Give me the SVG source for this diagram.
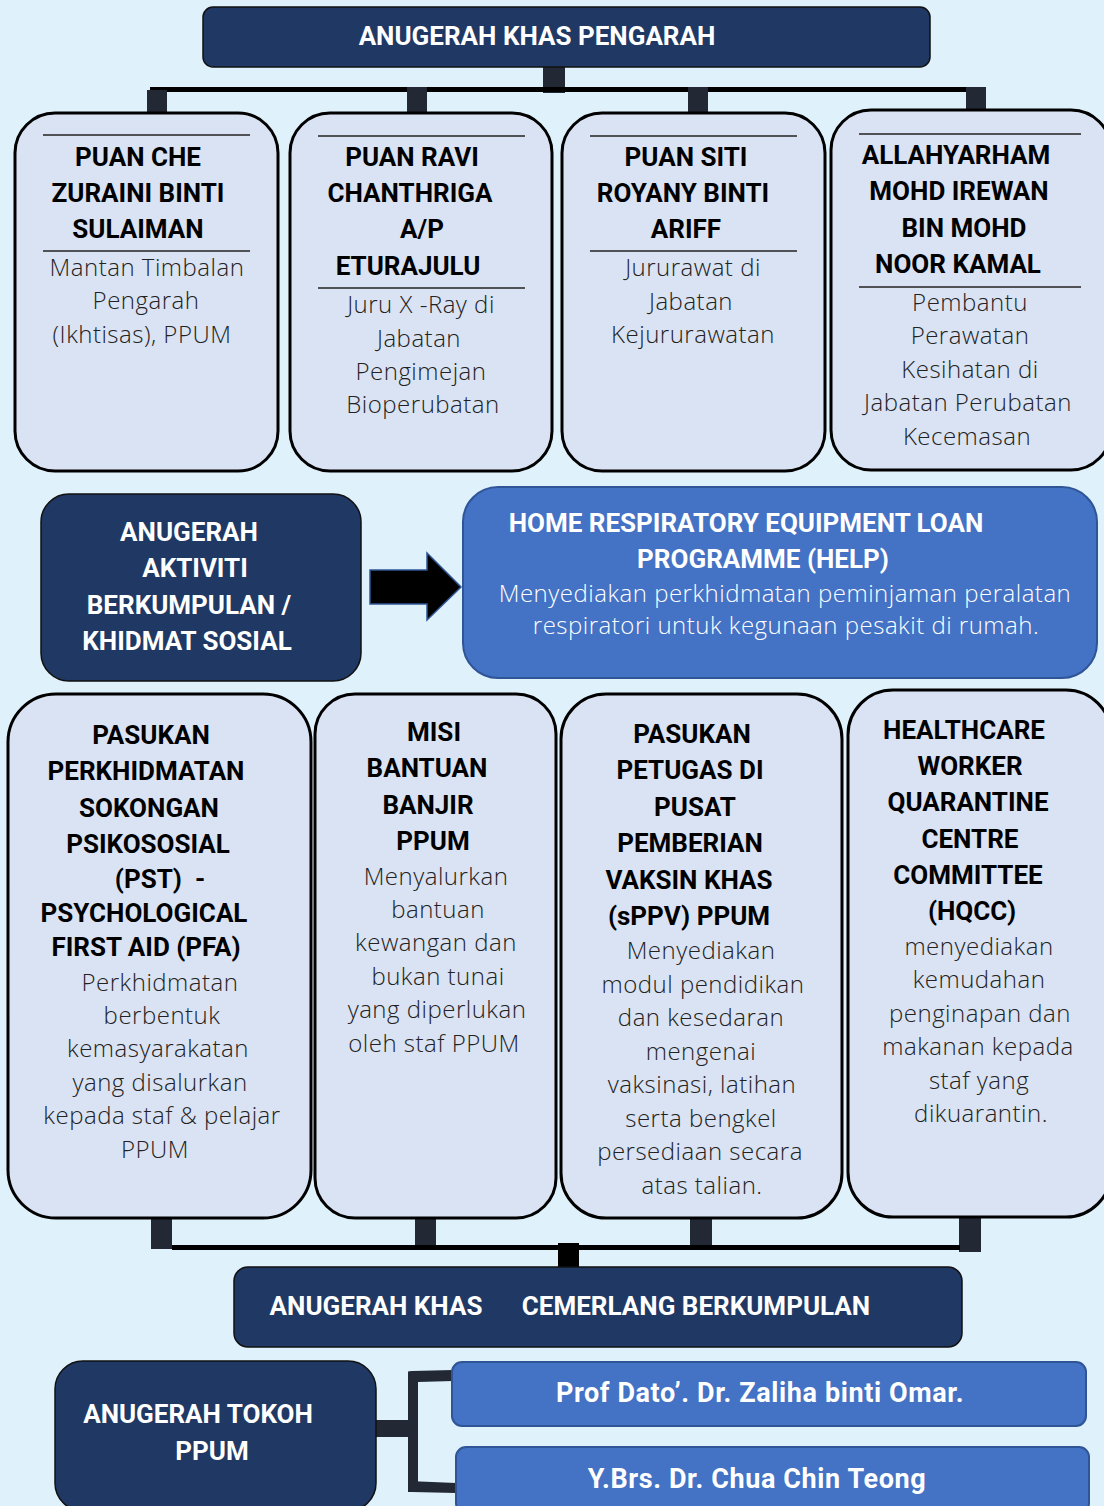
<svg xmlns="http://www.w3.org/2000/svg" width="1104" height="1506" viewBox="0 0 1104 1506">
<style>
.card{fill:#dae3f3;stroke:#000;stroke-width:3}
.navy{fill:#203864;stroke:#111;stroke-width:1.5}
.blue{fill:#4472c4;stroke:#2f5597;stroke-width:2}
.stub{fill:#222834}
.bar{fill:#000}
.rule{stroke:#222;stroke-width:1.5}
text{text-anchor:middle}
.t{font-family:Roboto,"Liberation Sans",sans-serif;font-weight:700;font-size:26px;fill:#000}
.w{font-family:Roboto,"Liberation Sans",sans-serif;font-weight:700;font-size:26px;fill:#fff}
.nm{font-size:27px;letter-spacing:0.6px}
.b{font-family:"Open Sans","Noto Sans",sans-serif;font-weight:300;font-size:24px;letter-spacing:0.5px;fill:#222}
.wb{font-family:"Open Sans","Noto Sans",sans-serif;font-weight:300;font-size:24px;letter-spacing:0.5px;fill:#fff}
</style>
<rect width="1104" height="1506" fill="#dff1fb"/>

<g id="connectors">
  <rect class="stub" x="543" y="58" width="22" height="35"/>
  <rect class="bar" x="150" y="87" width="822" height="5"/>
  <rect class="stub" x="147" y="90" width="20" height="25"/>
  <rect class="stub" x="407" y="87" width="20" height="26"/>
  <rect class="stub" x="688" y="87" width="20" height="26"/>
  <rect class="stub" x="966" y="87" width="20" height="24"/>
  <path d="M370,570 H427 V553 L461,587 L427,620 V604 H370 Z" fill="#000" stroke="#2f5597" stroke-width="1.5"/>
  <rect class="stub" x="151" y="1214" width="21" height="35"/>
  <rect class="stub" x="415" y="1214" width="21" height="35"/>
  <rect class="stub" x="690" y="1215" width="22" height="35"/>
  <rect class="stub" x="959" y="1216" width="22" height="36"/>
  <rect class="bar" x="172" y="1245" width="788" height="5"/>
  <rect class="bar" x="558" y="1243" width="21" height="25"/>
  <rect class="stub" x="376" y="1420" width="40" height="17"/>
  <rect class="stub" x="408" y="1372" width="10" height="120"/>
  <path class="stub" d="M408,1372 Q408,1371 412,1371 L453,1370 L453,1381 L418,1382 Z"/>
  <path class="stub" d="M408,1481 L456,1483 L456,1493 L412,1492 Q408,1492 408,1488 Z"/>
</g>

<g id="n-top">
  <rect class="navy" x="203" y="7" width="727" height="60" rx="10"/>
  <text class="w" x="537" y="45">ANUGERAH KHAS PENGARAH</text>
</g>

<g id="n-che">
  <rect class="card" x="15" y="113" width="263" height="358" rx="40"/>
  <line class="rule" x1="43" y1="135" x2="250" y2="135"/>
  <line class="rule" x1="43" y1="251" x2="250" y2="251"/>
  <text class="t" x="138" y="166">PUAN CHE</text>
  <text class="t" x="138" y="202">ZURAINI BINTI</text>
  <text class="t" x="138" y="238">SULAIMAN</text>
  <text class="b" x="147" y="276">Mantan Timbalan</text>
  <text class="b" x="146" y="309">Pengarah</text>
  <text class="b" x="142" y="343">(Ikhtisas), PPUM</text>
</g>

<g id="n-ravi">
  <rect class="card" x="290" y="113" width="262" height="358" rx="40"/>
  <line class="rule" x1="318" y1="136" x2="525" y2="136"/>
  <line class="rule" x1="318" y1="288" x2="525" y2="288"/>
  <text class="t" x="412" y="166">PUAN RAVI</text>
  <text class="t" x="410" y="202">CHANTHRIGA</text>
  <text class="t" x="422" y="238">A/P</text>
  <text class="t" x="408" y="275">ETURAJULU</text>
  <text class="b" x="421" y="313">Juru X -Ray di</text>
  <text class="b" x="419" y="347">Jabatan</text>
  <text class="b" x="421" y="380">Pengimejan</text>
  <text class="b" x="423" y="413">Bioperubatan</text>
</g>

<g id="n-siti">
  <rect class="card" x="562" y="113" width="263" height="358" rx="40"/>
  <line class="rule" x1="590" y1="136" x2="797" y2="136"/>
  <line class="rule" x1="590" y1="251" x2="797" y2="251"/>
  <text class="t" x="686" y="166">PUAN SITI</text>
  <text class="t" x="683" y="202">ROYANY BINTI</text>
  <text class="t" x="686" y="238">ARIFF</text>
  <text class="b" x="693" y="276">Jururawat di</text>
  <text class="b" x="691" y="310">Jabatan</text>
  <text class="b" x="693" y="343">Kejururawatan</text>
</g>

<g id="n-irewan">
  <rect class="card" x="831" y="110" width="280" height="360" rx="40"/>
  <line class="rule" x1="859" y1="134" x2="1081" y2="134"/>
  <line class="rule" x1="859" y1="287" x2="1081" y2="287"/>
  <text class="t" x="956" y="164">ALLAHYARHAM</text>
  <text class="t" x="959" y="200">MOHD IREWAN</text>
  <text class="t" x="964" y="237">BIN MOHD</text>
  <text class="t" x="958" y="273">NOOR KAMAL</text>
  <text class="b" x="970" y="311">Pembantu</text>
  <text class="b" x="970" y="344">Perawatan</text>
  <text class="b" x="970" y="378">Kesihatan di</text>
  <text class="b" x="968" y="411">Jabatan Perubatan</text>
  <text class="b" x="967" y="445">Kecemasan</text>
</g>

<g id="n-aktiviti">
  <rect class="navy" x="41" y="494" width="320" height="187" rx="28"/>
  <text class="w" x="189" y="541">ANUGERAH</text>
  <text class="w" x="195" y="577">AKTIVITI</text>
  <text class="w" x="189" y="614">BERKUMPULAN /</text>
  <text class="w" x="187" y="650">KHIDMAT SOSIAL</text>
</g>

<g id="n-help">
  <rect class="blue" x="463" y="487" width="634" height="191" rx="35"/>
  <text class="w" x="746" y="532">HOME RESPIRATORY EQUIPMENT LOAN</text>
  <text class="w" x="763" y="568">PROGRAMME (HELP)</text>
  <text class="wb" x="785" y="602">Menyediakan perkhidmatan peminjaman peralatan</text>
  <text class="wb" x="786" y="634">respiratori untuk kegunaan pesakit di rumah.</text>
</g>

<g id="n-pst">
  <rect class="card" x="8" y="694" width="303" height="524" rx="48"/>
  <text class="t" x="151" y="744">PASUKAN</text>
  <text class="t" x="146" y="780">PERKHIDMATAN</text>
  <text class="t" x="149" y="817">SOKONGAN</text>
  <text class="t" x="148" y="853">PSIKOSOSIAL</text>
  <text class="t" x="160" y="888" xml:space="preserve">(PST)  -</text>
  <text class="t" x="144" y="922">PSYCHOLOGICAL</text>
  <text class="t" x="146" y="956">FIRST AID (PFA)</text>
  <text class="b" x="160" y="991">Perkhidmatan</text>
  <text class="b" x="162" y="1024">berbentuk</text>
  <text class="b" x="158" y="1057">kemasyarakatan</text>
  <text class="b" x="160" y="1091">yang disalurkan</text>
  <text class="b" x="162" y="1124">kepada staf &amp; pelajar</text>
  <text class="b" x="155" y="1158">PPUM</text>
</g>

<g id="n-banjir">
  <rect class="card" x="315" y="694" width="241" height="524" rx="40"/>
  <text class="t" x="434" y="741">MISI</text>
  <text class="t" x="427" y="777">BANTUAN</text>
  <text class="t" x="428" y="814">BANJIR</text>
  <text class="t" x="433" y="850">PPUM</text>
  <text class="b" x="436" y="885">Menyalurkan</text>
  <text class="b" x="438" y="918">bantuan</text>
  <text class="b" x="436" y="951">kewangan dan</text>
  <text class="b" x="438" y="985">bukan tunai</text>
  <text class="b" x="437" y="1018">yang diperlukan</text>
  <text class="b" x="434" y="1052">oleh staf PPUM</text>
</g>

<g id="n-sppv">
  <rect class="card" x="561" y="694" width="281" height="524" rx="45"/>
  <text class="t" x="692" y="743">PASUKAN</text>
  <text class="t" x="690" y="779">PETUGAS DI</text>
  <text class="t" x="695" y="816">PUSAT</text>
  <text class="t" x="690" y="852">PEMBERIAN</text>
  <text class="t" x="689" y="889">VAKSIN KHAS</text>
  <text class="t" x="689" y="925">(sPPV) PPUM</text>
  <text class="b" x="701" y="959">Menyediakan</text>
  <text class="b" x="703" y="993">modul pendidikan</text>
  <text class="b" x="701" y="1026">dan kesedaran</text>
  <text class="b" x="701" y="1060">mengenai</text>
  <text class="b" x="702" y="1093">vaksinasi, latihan</text>
  <text class="b" x="701" y="1127">serta bengkel</text>
  <text class="b" x="700" y="1160">persediaan secara</text>
  <text class="b" x="702" y="1194">atas talian.</text>
</g>

<g id="n-hqcc">
  <rect class="card" x="848" y="690" width="263" height="527" rx="45"/>
  <text class="t" x="964" y="739">HEALTHCARE</text>
  <text class="t" x="970" y="775">WORKER</text>
  <text class="t" x="968" y="811">QUARANTINE</text>
  <text class="t" x="970" y="848">CENTRE</text>
  <text class="t" x="968" y="884">COMMITTEE</text>
  <text class="t" x="972" y="920">(HQCC)</text>
  <text class="b" x="979" y="955">menyediakan</text>
  <text class="b" x="979" y="988">kemudahan</text>
  <text class="b" x="980" y="1022">penginapan dan</text>
  <text class="b" x="978" y="1055">makanan kepada</text>
  <text class="b" x="979" y="1089">staf yang</text>
  <text class="b" x="981" y="1122">dikuarantin.</text>
</g>

<g id="n-cemerlang">
  <rect class="navy" x="234" y="1267" width="728" height="80" rx="14"/>
  <text class="w" x="376" y="1315">ANUGERAH KHAS</text>
  <text class="w" x="696" y="1315">CEMERLANG BERKUMPULAN</text>
</g>

<g id="n-tokoh">
  <rect class="navy" x="55" y="1361" width="321" height="150" rx="28"/>
  <text class="w" x="198" y="1423">ANUGERAH TOKOH</text>
  <text class="w" x="212" y="1460">PPUM</text>
</g>

<g id="n-zaliha">
  <rect class="blue" x="452" y="1362" width="634" height="64" rx="10"/>
  <text class="w nm" x="760" y="1402">Prof Dato’. Dr. Zaliha binti Omar.</text>
</g>

<g id="n-chua">
  <rect class="blue" x="456" y="1447" width="633" height="66" rx="10"/>
  <text class="w nm" x="757" y="1488">Y.Brs. Dr. Chua Chin Teong</text>
</g>
</svg>
